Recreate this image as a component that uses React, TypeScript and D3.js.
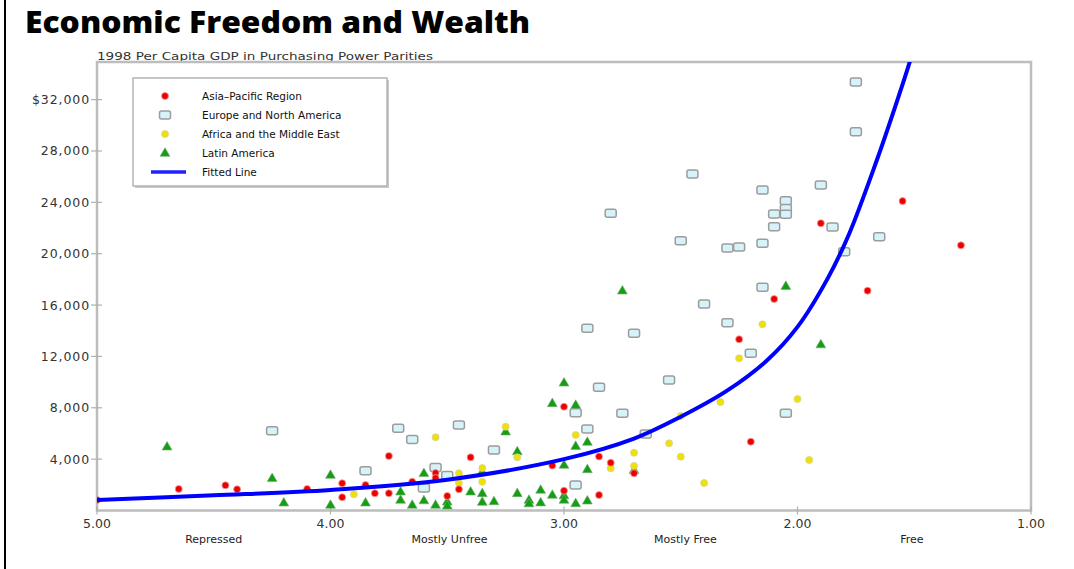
import React from 'react';
import * as d3 from 'd3';

// [freedom score, 1998 GDP per capita PPP]
const asiaPacific: [number, number][] = [
  [5.0, 820], [4.65, 1675], [4.45, 1960], [4.4, 1650], [4.1, 1675], [3.95, 2120], [3.95, 1030],
  [3.85, 1985], [3.81, 1340], [3.75, 4245], [3.75, 1340], [3.65, 2240], [3.55, 2920], [3.55, 2530],
  [3.5, 1130], [3.45, 1650], [3.4, 4140], [3.05, 3500], [3.0, 1540], [3.0, 8085], [2.85, 4205],
  [2.85, 1205], [2.8, 3720], [2.7, 2900], [2.25, 13330], [2.2, 5360], [2.1, 16470], [1.9, 22370],
  [1.7, 17120], [1.55, 24100], [1.3, 20650],
];

const europeNA: [number, number][] = [
  [4.25, 6215], [3.85, 3100], [3.71, 6400], [3.65, 5530], [3.6, 1750], [3.55, 3350], [3.5, 2725],
  [3.45, 6660], [3.3, 4710], [2.95, 1985], [2.95, 7620], [2.9, 6350], [2.9, 14190], [2.85, 9595],
  [2.8, 23150], [2.75, 7570], [2.7, 13800], [2.65, 5960], [2.55, 10160], [2.5, 21010], [2.45, 26210],
  [2.4, 16080], [2.3, 14630], [2.3, 20440], [2.25, 20520], [2.2, 12240], [2.15, 24960], [2.15, 20810],
  [2.15, 17380], [2.1, 23090], [2.1, 22100], [2.05, 24130], [2.05, 23520], [2.05, 23070], [2.05, 7570],
  [1.9, 25350], [1.85, 22080], [1.8, 20155], [1.75, 33370], [1.75, 29500], [1.65, 21320],
];

const africaME: [number, number][] = [
  [3.9, 1260], [3.55, 5700], [3.45, 2900], [3.45, 2140], [3.35, 3310], [3.35, 2240], [3.25, 6530],
  [3.2, 4140], [2.95, 5880], [2.8, 3290], [2.7, 4500], [2.7, 3470], [2.55, 5230], [2.5, 4190],
  [2.5, 7360], [2.4, 2140], [2.33, 8450], [2.25, 11850], [2.15, 14500], [2.0, 8680], [1.95, 3930],
];

const latinAmerica: [number, number][] = [
  [4.7, 4970], [4.25, 2510], [4.2, 610], [4.0, 2765], [4.0, 430], [3.85, 610], [3.7, 1465], [3.7, 820],
  [3.65, 430], [3.6, 2900], [3.6, 780], [3.55, 430], [3.5, 685], [3.5, 375], [3.4, 1465], [3.35, 3020],
  [3.35, 1340], [3.35, 660], [3.3, 715], [3.25, 6140], [3.2, 4595], [3.2, 1340], [3.15, 820], [3.15, 545],
  [3.1, 1600], [3.1, 620], [3.05, 8350], [3.05, 1210], [3.0, 9950], [3.0, 3545], [3.0, 1170], [3.0, 820],
  [2.95, 8215], [2.95, 5020], [2.95, 560], [2.9, 5335], [2.9, 3210], [2.9, 765], [2.75, 17120],
  [2.7, 3150], [2.05, 17480], [1.9, 12930],
];

// points
const fittedLine: [number, number][] = [
  [5.0, 820], [4.5, 1180], [4.0, 1600], [3.5, 2400], [3.0, 4000], [2.7, 5600], [2.5, 7300],
  [2.3, 9350], [2.13, 11700], [2.0, 14300], [1.87, 18100], [1.78, 21500], [1.66, 27300],
  [1.59, 31000], [1.52, 34900], [1.48, 37500],
];

const scoreTicks = [5, 4, 3, 2, 1];
const scoreTickLabels = ['5.00', '4.00', '3.00', '2.00', '1.00'];
const gdpTicks = [4000, 8000, 12000, 16000, 20000, 24000, 28000, 32000];
const gdpTickLabels = ['4,000', '8,000', '12,000', '16,000', '20,000', '24,000', '28,000', '$32,000'];
const zoneLabels = ['Repressed', 'Mostly Unfree', 'Mostly Free', 'Free'];
const zoneCenters = [4.5, 3.49, 2.48, 1.51];
const legendLabels = ['Asia–Pacific Region', 'Europe and North America', 'Africa and the Middle East', 'Latin America', 'Fitted Line'];

const W = 1074;
const H = 569;
const plot = { left: 97, right: 1031, top: 62, bottom: 510.5 };

const App: React.FC = () => {
  const x = d3.scaleLinear().domain([5, 1]).range([plot.left, plot.right]);
  const y = d3.scaleLinear().domain([0, 35000]).range([plot.bottom, 61.1]);

  const line = d3.line<[number, number]>()
    .x(d => x(d[0]))
    .y(d => y(d[1]))
    .curve(d3.curveCatmullRom.alpha(0.5));

  const tri = d3.symbol().type(d3.symbolTriangle).size(42)() as string;
  const font = '"DejaVu Sans", sans-serif';

  const red = (cx: number, cy: number, k: string | number) => (
    <circle key={k} cx={cx} cy={cy} r={3.5} fill="#ee0000" stroke="#f0a0a0" strokeWidth={0.8} />
  );
  const square = (cx: number, cy: number, k: string | number) => (
    <rect key={k} x={cx - 5.5} y={cy - 4} width={11} height={8} rx={2} fill="#d6f3fa" stroke="#9c9c9c" strokeWidth={1.5} />
  );
  const yellow = (cx: number, cy: number, k: string | number) => (
    <circle key={k} cx={cx} cy={cy} r={3.5} fill="#f0e200" stroke="#d8cf9a" strokeWidth={0.8} />
  );
  const triangle = (cx: number, cy: number, k: string | number) => (
    <path key={k} d={tri} transform={`translate(${cx},${cy + 0.5})`} fill="#12a012" stroke="#7aa87a" strokeWidth={0.6} />
  );

  const legendMarkers = [
    (cy: number) => red(165, cy, 'l0'),
    (cy: number) => square(165, cy, 'l1'),
    (cy: number) => yellow(165, cy, 'l2'),
    (cy: number) => triangle(165, cy, 'l3'),
    (cy: number) => <line key="l4" x1={151} x2={186} y1={cy} y2={cy} stroke="#2020ff" strokeWidth={3.5} />,
  ];
  const legendRows = [96, 115, 134, 153, 172];

  return (
    <svg width={W} height={H} style={{ position: 'absolute', left: 0, top: 0, background: '#fff' }}>
      <defs>
        <clipPath id="plotClip">
          <rect x={plot.left} y={plot.top} width={plot.right - plot.left} height={plot.bottom - plot.top} />
        </clipPath>
      </defs>

      {/* page frame */}
      <line x1={5} x2={5} y1={0} y2={H} stroke="#000" strokeWidth={2} />

      {/* titles */}
      <text x={25} y={33} fontFamily='"Open Sans", sans-serif' fontWeight={800} fontSize={30}
        textLength={505} lengthAdjust="spacingAndGlyphs" fill="#000">Economic Freedom and Wealth</text>
      <text x={97} y={60} fontFamily={font} fontSize={11} textLength={336} lengthAdjust="spacingAndGlyphs" fill="#333">
        1998 Per Capita GDP in Purchasing Power Parities
      </text>

      {/* plot frame */}
      <rect x={plot.left} y={plot.top} width={plot.right - plot.left} height={plot.bottom - plot.top}
        fill="#fff" stroke="#bdbdbd" strokeWidth={2.5} />

      {/* y axis */}
      {gdpTicks.map((t, i) => (
        <g key={`gy${t}`}>
          <line x1={plot.left - 6} x2={plot.left + 5} y1={y(t)} y2={y(t)} stroke="#b0b0b0" strokeWidth={1.2} />
          <text x={90} y={y(t) + 4.5} textAnchor="end" fontFamily={font} fontSize={12.5} letterSpacing={0.9} fill="#333">
            {gdpTickLabels[i]}
          </text>
        </g>
      ))}

      {/* x axis */}
      {scoreTicks.map((t, i) => (
        <g key={`gx${t}`}>
          <line x1={x(t)} x2={x(t)} y1={plot.bottom - 4} y2={plot.bottom + 4} stroke="#b0b0b0" strokeWidth={1.2} />
          <text x={x(t)} y={528} textAnchor="middle" fontFamily={font} fontSize={12.5} fill="#333">
            {scoreTickLabels[i]}
          </text>
        </g>
      ))}
      {zoneLabels.map((z, i) => (
        <text key={z} x={x(zoneCenters[i])} y={543} textAnchor="middle" fontFamily={font} fontSize={11} fill="#222">
          {z}
        </text>
      ))}

      {/* points */}
      <g clipPath="url(#plotClip)">
        {europeNA.map((d, i) => square(x(d[0]), y(d[1]), `e${i}`))}
        {latinAmerica.map((d, i) => triangle(x(d[0]), y(d[1]), `g${i}`))}
        {africaME.map((d, i) => yellow(x(d[0]), y(d[1]), `y${i}`))}
        {asiaPacific.map((d, i) => red(x(d[0]), y(d[1]), `r${i}`))}
        <path d={line(fittedLine) ?? ''} fill="none" stroke="#0000ff" strokeWidth={4} />
      </g>

      {/* legend */}
      <rect x={135} y={80} width={254} height={108} fill="#c8c8c8" />
      <rect x={133} y={78} width={254} height={108} fill="#fff" stroke="#b4b4b4" strokeWidth={1.5} />
      {legendRows.map((cy, i) => (
        <g key={`lg${i}`}>
          {legendMarkers[i](cy)}
          <text x={202} y={cy + 4} fontFamily={font} fontSize={10.5} fill="#111">{legendLabels[i]}</text>
        </g>
      ))}
    </svg>
  );
};

export default App;
